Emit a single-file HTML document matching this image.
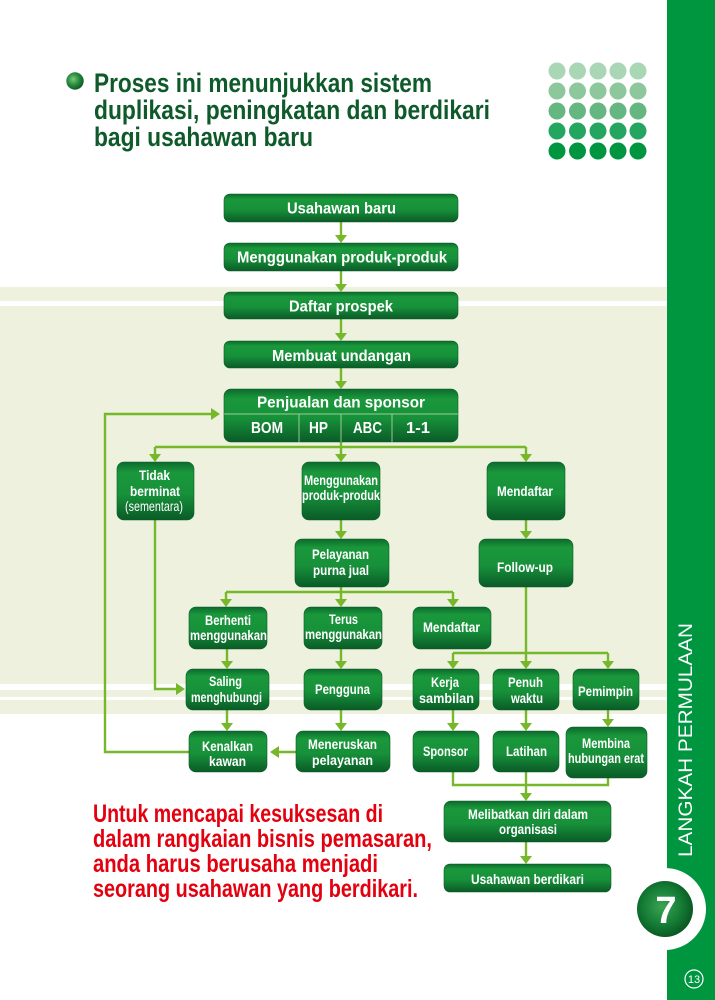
<!DOCTYPE html>
<html><head><meta charset="utf-8"><style>
html,body{margin:0;padding:0;background:#fff;}
svg{display:block;}
text{font-family:"Liberation Sans",Arial,sans-serif;}
</style></head><body>
<svg width="715" height="1000" viewBox="0 0 715 1000" xmlns="http://www.w3.org/2000/svg">
<defs>
<linearGradient id="bx" x1="0" y1="0" x2="0" y2="1">
<stop offset="0" stop-color="#0c6a2d"/>
<stop offset="0.18" stop-color="#1a973b"/>
<stop offset="0.55" stop-color="#17913a"/>
<stop offset="1" stop-color="#0a5b27"/>
</linearGradient>
<radialGradient id="sph" cx="0.4" cy="0.4" r="0.65">
<stop offset="0" stop-color="#7cc67a"/>
<stop offset="0.5" stop-color="#2a8f3e"/>
<stop offset="1" stop-color="#0a5224"/>
</radialGradient>
<radialGradient id="sev" cx="0.45" cy="0.45" r="0.6">
<stop offset="0" stop-color="#3aa552"/>
<stop offset="0.6" stop-color="#137a34"/>
<stop offset="1" stop-color="#08501f"/>
</radialGradient>
</defs>

<!-- background bands -->
<rect x="0" y="287" width="667" height="427" fill="#edf1de"/>
<rect x="0" y="301" width="667" height="5" fill="#fff"/>
<rect x="0" y="684" width="667" height="6" fill="#fff"/>
<rect x="0" y="697" width="667" height="3" fill="#fff"/>

<!-- right bar -->
<rect x="667" y="0" width="48" height="1000" fill="#009640"/>
<circle cx="665" cy="909" r="41" fill="#fff"/>
<circle cx="665" cy="909" r="28" fill="url(#sev)"/>
<text x="666" y="923" font-size="38" font-weight="bold" fill="#fff" text-anchor="middle">7</text>
<circle cx="694" cy="979" r="9" fill="none" stroke="#fff" stroke-width="1.2"/>
<text x="694" y="983" font-size="11" fill="#fff" text-anchor="middle">13</text>
<text transform="translate(692,857) rotate(-90)" x="0" y="0" font-size="19.5" fill="#fff" textLength="234" lengthAdjust="spacingAndGlyphs">LANGKAH PERMULAAN</text>

<!-- dots -->
<g>
<g fill="#a9d6b4"><circle cx="557" cy="71" r="8.5"/><circle cx="577.5" cy="71" r="8.5"/><circle cx="598" cy="71" r="8.5"/><circle cx="618" cy="71" r="8.5"/><circle cx="638" cy="71" r="8.5"/></g>
<g fill="#8dc89c"><circle cx="557" cy="91" r="8.5"/><circle cx="577.5" cy="91" r="8.5"/><circle cx="598" cy="91" r="8.5"/><circle cx="618" cy="91" r="8.5"/><circle cx="638" cy="91" r="8.5"/></g>
<g fill="#66b682"><circle cx="557" cy="111" r="8.5"/><circle cx="577.5" cy="111" r="8.5"/><circle cx="598" cy="111" r="8.5"/><circle cx="618" cy="111" r="8.5"/><circle cx="638" cy="111" r="8.5"/></g>
<g fill="#25a660"><circle cx="557" cy="131" r="8.5"/><circle cx="577.5" cy="131" r="8.5"/><circle cx="598" cy="131" r="8.5"/><circle cx="618" cy="131" r="8.5"/><circle cx="638" cy="131" r="8.5"/></g>
<g fill="#009640"><circle cx="557" cy="151" r="8.5"/><circle cx="577.5" cy="151" r="8.5"/><circle cx="598" cy="151" r="8.5"/><circle cx="618" cy="151" r="8.5"/><circle cx="638" cy="151" r="8.5"/></g>
</g>

<!-- title -->
<circle cx="75" cy="81" r="8.7" fill="url(#sph)"/>
<g font-size="27" font-weight="bold" fill="#0e5a2a">
<text x="94" y="92" textLength="338" lengthAdjust="spacingAndGlyphs">Proses ini menunjukkan sistem</text>
<text x="94" y="119" textLength="396" lengthAdjust="spacingAndGlyphs">duplikasi, peningkatan dan berdikari</text>
<text x="94" y="146" textLength="219" lengthAdjust="spacingAndGlyphs">bagi usahawan baru</text>
</g>

<!-- connectors -->
<g fill="none" stroke="#76b82a" stroke-width="2.4">
<line x1="341" y1="222" x2="341" y2="236"/>
<line x1="341" y1="271" x2="341" y2="285"/>
<line x1="341" y1="319" x2="341" y2="334"/>
<line x1="341" y1="368" x2="341" y2="382"/>
<line x1="341" y1="442" x2="341" y2="455"/>
<line x1="155" y1="447" x2="526" y2="447"/>
<line x1="155" y1="447" x2="155" y2="455"/>
<line x1="526" y1="447" x2="526" y2="455"/>
<polyline points="189,752 105,752 105,414 212,414"/>
<polyline points="155,520 155,689 177,689"/>
<line x1="341" y1="520" x2="341" y2="532"/>
<line x1="526" y1="520" x2="526" y2="532"/>
<line x1="341" y1="587" x2="341" y2="600"/>
<line x1="226" y1="592" x2="453" y2="592"/>
<line x1="226" y1="592" x2="226" y2="600"/>
<line x1="453" y1="592" x2="453" y2="600"/>
<line x1="526" y1="587" x2="526" y2="662"/>
<line x1="453" y1="653" x2="608" y2="653"/>
<line x1="453" y1="653" x2="453" y2="662"/>
<line x1="608" y1="653" x2="608" y2="662"/>
<line x1="227" y1="649" x2="227" y2="662"/>
<line x1="341" y1="649" x2="341" y2="662"/>
<line x1="227" y1="710" x2="227" y2="724"/>
<line x1="341" y1="710" x2="341" y2="724"/>
<line x1="296" y1="752" x2="278" y2="752"/>
<line x1="453" y1="710" x2="453" y2="724"/>
<line x1="526" y1="710" x2="526" y2="724"/>
<line x1="608" y1="710" x2="608" y2="720"/>
<polyline points="453,772 453,785 608,785 608,778"/>
<line x1="526" y1="772" x2="526" y2="794"/>
<line x1="526" y1="842" x2="526" y2="857"/>
</g>
<g fill="#76b82a">
<polygon points="335,235 347,235 341,243"/>
<polygon points="335,284 347,284 341,292"/>
<polygon points="335,333 347,333 341,341"/>
<polygon points="335,381 347,381 341,389"/>
<polygon points="149,454 161,454 155,462"/>
<polygon points="335,454 347,454 341,462"/>
<polygon points="520,454 532,454 526,462"/>
<polygon points="211,408 211,420 220,414"/>
<polygon points="176,683 176,695 185,689"/>
<polygon points="335,531 347,531 341,539"/>
<polygon points="520,531 532,531 526,539"/>
<polygon points="220,599 232,599 226,607"/>
<polygon points="335,599 347,599 341,607"/>
<polygon points="447,599 459,599 453,607"/>
<polygon points="447,661 459,661 453,669"/>
<polygon points="520,661 532,661 526,669"/>
<polygon points="602,661 614,661 608,669"/>
<polygon points="221,661 233,661 227,669"/>
<polygon points="335,661 347,661 341,669"/>
<polygon points="221,723 233,723 227,731"/>
<polygon points="335,723 347,723 341,731"/>
<polygon points="279,746 279,758 270,752"/>
<polygon points="447,723 459,723 453,731"/>
<polygon points="520,723 532,723 526,731"/>
<polygon points="602,719 614,719 608,727"/>
<polygon points="520,793 532,793 526,801"/>
<polygon points="520,856 532,856 526,864"/>
</g>

<!-- boxes -->
<g fill="url(#bx)" stroke="#0a5a26" stroke-width="0.6">
<rect x="224" y="194" width="234" height="28" rx="6"/>
<rect x="224" y="243" width="234" height="28" rx="6"/>
<rect x="224" y="292" width="234" height="27" rx="6"/>
<rect x="224" y="341" width="234" height="27" rx="6"/>
<rect x="224" y="389" width="234" height="53" rx="7"/>
<rect x="117" y="462" width="77" height="58" rx="7"/>
<rect x="302" y="462" width="78" height="58" rx="7"/>
<rect x="487" y="462" width="78" height="58" rx="7"/>
<rect x="295" y="539" width="94" height="48" rx="7"/>
<rect x="479" y="539" width="94" height="48" rx="7"/>
<rect x="189" y="607" width="78" height="42" rx="7"/>
<rect x="304" y="607" width="78" height="42" rx="7"/>
<rect x="413" y="607" width="78" height="42" rx="7"/>
<rect x="186" y="669" width="83" height="41" rx="7"/>
<rect x="304" y="669" width="78" height="41" rx="7"/>
<rect x="413" y="669" width="66" height="41" rx="7"/>
<rect x="493" y="669" width="66" height="41" rx="7"/>
<rect x="573" y="669" width="66" height="41" rx="7"/>
<rect x="189" y="731" width="78" height="41" rx="7"/>
<rect x="296" y="731" width="94" height="41" rx="7"/>
<rect x="413" y="731" width="66" height="41" rx="7"/>
<rect x="493" y="731" width="66" height="41" rx="7"/>
<rect x="566" y="727" width="81" height="51" rx="7"/>
<rect x="444" y="801" width="167" height="41" rx="7"/>
<rect x="444" y="864" width="167" height="28" rx="6"/>
</g>
<g stroke="#b9dcb0" stroke-width="1" opacity="0.8">
<line x1="224" y1="414" x2="458" y2="414"/>
<line x1="299" y1="414" x2="299" y2="442"/>
<line x1="341" y1="414" x2="341" y2="442"/>
<line x1="392" y1="414" x2="392" y2="442"/>
</g>

<!-- box text -->
<g font-weight="bold" fill="#fff" font-size="16">
<text x="287" y="213.5" textLength="109" lengthAdjust="spacingAndGlyphs">Usahawan baru</text>
<text x="237" y="262.5" textLength="210" lengthAdjust="spacingAndGlyphs">Menggunakan produk-produk</text>
<text x="289" y="311.5" textLength="104" lengthAdjust="spacingAndGlyphs">Daftar prospek</text>
<text x="272" y="361" textLength="139" lengthAdjust="spacingAndGlyphs">Membuat undangan</text>
<text x="257" y="407.5" textLength="168" lengthAdjust="spacingAndGlyphs">Penjualan dan sponsor</text>
<text x="251" y="433" textLength="32" lengthAdjust="spacingAndGlyphs">BOM</text>
<text x="309" y="433" textLength="19" lengthAdjust="spacingAndGlyphs">HP</text>
<text x="353" y="433" textLength="29" lengthAdjust="spacingAndGlyphs">ABC</text>
<text x="406" y="433" textLength="24" lengthAdjust="spacingAndGlyphs">1-1</text>
</g>
<g font-weight="bold" fill="#fff" font-size="14">
<text x="139" y="480" textLength="31" lengthAdjust="spacingAndGlyphs">Tidak</text>
<text x="130" y="496" textLength="50" lengthAdjust="spacingAndGlyphs">berminat</text>
<text x="125" y="511" textLength="58" lengthAdjust="spacingAndGlyphs" font-weight="normal">(sementara)</text>
<text x="304" y="485" textLength="74" lengthAdjust="spacingAndGlyphs">Menggunakan</text>
<text x="302" y="500" textLength="78" lengthAdjust="spacingAndGlyphs">produk-produk</text>
<text x="497" y="496" textLength="56" lengthAdjust="spacingAndGlyphs">Mendaftar</text>
<text x="312" y="559" textLength="57" lengthAdjust="spacingAndGlyphs">Pelayanan</text>
<text x="313" y="575" textLength="56" lengthAdjust="spacingAndGlyphs">purna jual</text>
<text x="497" y="572" textLength="56" lengthAdjust="spacingAndGlyphs">Follow-up</text>
<text x="205" y="625" textLength="46" lengthAdjust="spacingAndGlyphs">Berhenti</text>
<text x="190" y="640" textLength="77" lengthAdjust="spacingAndGlyphs">menggunakan</text>
<text x="329" y="624" textLength="29" lengthAdjust="spacingAndGlyphs">Terus</text>
<text x="305" y="639" textLength="77" lengthAdjust="spacingAndGlyphs">menggunakan</text>
<text x="423" y="632" textLength="57" lengthAdjust="spacingAndGlyphs">Mendaftar</text>
<text x="209" y="686" textLength="33" lengthAdjust="spacingAndGlyphs">Saling</text>
<text x="191" y="702" textLength="71" lengthAdjust="spacingAndGlyphs">menghubungi</text>
<text x="315" y="694" textLength="55" lengthAdjust="spacingAndGlyphs">Pengguna</text>
<text x="431" y="687" textLength="28" lengthAdjust="spacingAndGlyphs">Kerja</text>
<text x="419" y="703" textLength="55" lengthAdjust="spacingAndGlyphs">sambilan</text>
<text x="508" y="687" textLength="35" lengthAdjust="spacingAndGlyphs">Penuh</text>
<text x="511" y="703" textLength="32" lengthAdjust="spacingAndGlyphs">waktu</text>
<text x="578" y="696" textLength="55" lengthAdjust="spacingAndGlyphs">Pemimpin</text>
<text x="202" y="751" textLength="51" lengthAdjust="spacingAndGlyphs">Kenalkan</text>
<text x="209" y="766" textLength="37" lengthAdjust="spacingAndGlyphs">kawan</text>
<text x="308" y="749" textLength="69" lengthAdjust="spacingAndGlyphs">Meneruskan</text>
<text x="312" y="765" textLength="61" lengthAdjust="spacingAndGlyphs">pelayanan</text>
<text x="423" y="756" textLength="45" lengthAdjust="spacingAndGlyphs">Sponsor</text>
<text x="506" y="756" textLength="41" lengthAdjust="spacingAndGlyphs">Latihan</text>
<text x="582" y="748" textLength="48" lengthAdjust="spacingAndGlyphs">Membina</text>
<text x="568" y="763" textLength="76" lengthAdjust="spacingAndGlyphs">hubungan erat</text>
<text x="468" y="819" textLength="120" lengthAdjust="spacingAndGlyphs">Melibatkan diri dalam</text>
<text x="499" y="834" textLength="58" lengthAdjust="spacingAndGlyphs">organisasi</text>
<text x="471" y="884" textLength="113" lengthAdjust="spacingAndGlyphs">Usahawan berdikari</text>
</g>

<!-- red text -->
<g font-size="25" font-weight="bold" fill="#e3000f">
<text x="93" y="822" textLength="290" lengthAdjust="spacingAndGlyphs">Untuk mencapai kesuksesan di</text>
<text x="93" y="847" textLength="339" lengthAdjust="spacingAndGlyphs">dalam rangkaian bisnis pemasaran,</text>
<text x="93" y="872" textLength="285" lengthAdjust="spacingAndGlyphs">anda harus berusaha menjadi</text>
<text x="93" y="897" textLength="325" lengthAdjust="spacingAndGlyphs">seorang usahawan yang berdikari.</text>
</g>
</svg>
</body></html>
